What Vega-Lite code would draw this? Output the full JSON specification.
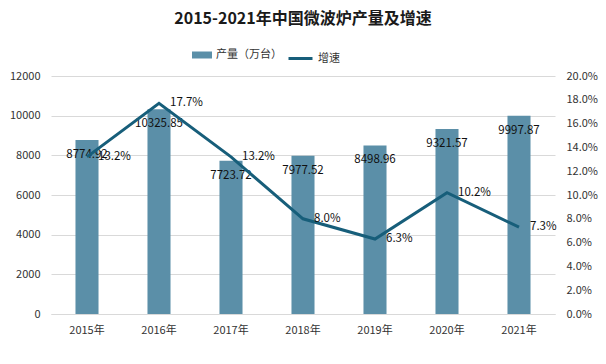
{
  "$schema": "https://vega.github.io/schema/vega-lite/v6.json",
  "width": 504,
  "height": 238,
  "autosize": "none",
  "padding": {"left": 51, "top": 76, "right": 51, "bottom": 50},
  "background": "white",
  "config": {
    "font": "Noto Sans CJK SC",
    "view": {"stroke": null},
    "axis": {"labelFont": "Noto Sans CJK SC", "labelFontSize": 11, "labelColor": "#333333", "ticks": false, "title": null, "labelOverlap": false, "labelFlush": false}
  },
  "title": {
    "text": "2015-2021年中国微波炉产量及增速",
    "font": "Noto Sans CJK SC",
    "fontSize": 16,
    "fontWeight": "bold",
    "color": "#1a1a1a",
    "anchor": "middle",
    "offset": 18
  },
  "data": {
    "values": [
      {"year": "2015年", "output": 8774.92, "rate": 0.132},
      {"year": "2016年", "output": 10325.85, "rate": 0.177},
      {"year": "2017年", "output": 7723.72, "rate": 0.132},
      {"year": "2018年", "output": 7977.52, "rate": 0.080},
      {"year": "2019年", "output": 8498.96, "rate": 0.063},
      {"year": "2020年", "output": 9321.57, "rate": 0.102},
      {"year": "2021年", "output": 9997.87, "rate": 0.073}
    ]
  },
  "encoding": {
    "x": {
      "field": "year",
      "type": "nominal",
      "sort": null,
      "scale": {"paddingInner": 0.68, "paddingOuter": 0.34},
      "axis": {"labelAngle": 0, "domain": true, "domainColor": "#d9d9d9", "labelPadding": 10, "grid": false}
    }
  },
  "layer": [
    {
      "encoding": {
        "y": {
          "field": "output",
          "type": "quantitative",
          "scale": {"domain": [0, 12000]},
          "axis": {"values": [0, 2000, 4000, 6000, 8000, 10000, 12000], "format": "d", "domain": false, "grid": true, "gridColor": "#d9d9d9", "labelPadding": 11, "labelOverlap": false}
        }
      },
      "layer": [
        {
          "mark": {"type": "bar"},
          "encoding": {
            "color": {
              "datum": "产量（万台）",
              "type": "nominal",
              "scale": {"domain": ["产量（万台）"], "range": ["#5b8fa8"]},
              "legend": {
                "orient": "none", "legendX": 141, "legendY": -31, "title": null, "padding": 0,
                "symbolType": "M-1,-0.35L1,-0.35L1,0.35L-1,0.35Z", "symbolSize": 400,
                "symbolStrokeWidth": 0, "labelFontSize": 11, "labelColor": "#333333", "labelFont": "Noto Sans CJK SC"
              }
            }
          }
        },
        {
          "mark": {"type": "text", "dy": 15, "align": "center", "baseline": "middle", "fontSize": 11.5, "color": "#111111"},
          "encoding": {
            "text": {"field": "output", "type": "quantitative", "format": ".2f"}
          }
        }
      ]
    },
    {
      "encoding": {
        "y": {
          "field": "rate",
          "type": "quantitative",
          "scale": {"domain": [0, 0.2]},
          "axis": {"orient": "right", "values": [0, 0.02, 0.04, 0.06, 0.08, 0.1, 0.12, 0.14, 0.16, 0.18, 0.2], "format": ".1%", "domain": false, "grid": false, "labelPadding": 11, "labelOverlap": false}
        }
      },
      "layer": [
        {
          "mark": {"type": "line", "strokeWidth": 3, "strokeJoin": "miter"},
          "encoding": {
            "stroke": {
              "datum": "增速",
              "type": "nominal",
              "scale": {"domain": ["增速"], "range": ["#175e7a"]},
              "legend": {
                "orient": "none", "legendX": 236, "legendY": -31, "title": null, "padding": 0,
                "symbolType": "stroke", "symbolSize": 576, "symbolStrokeWidth": 3,
                "labelFontSize": 11, "labelColor": "#333333", "labelFont": "Noto Sans CJK SC"
              }
            }
          }
        },
        {
          "mark": {"type": "text", "dx": 11, "align": "left", "baseline": "middle", "fontSize": 11.5, "color": "#111111"},
          "encoding": {
            "text": {"field": "rate", "type": "quantitative", "format": ".1%"}
          }
        }
      ]
    }
  ],
  "resolve": {"scale": {"y": "independent"}}
}
